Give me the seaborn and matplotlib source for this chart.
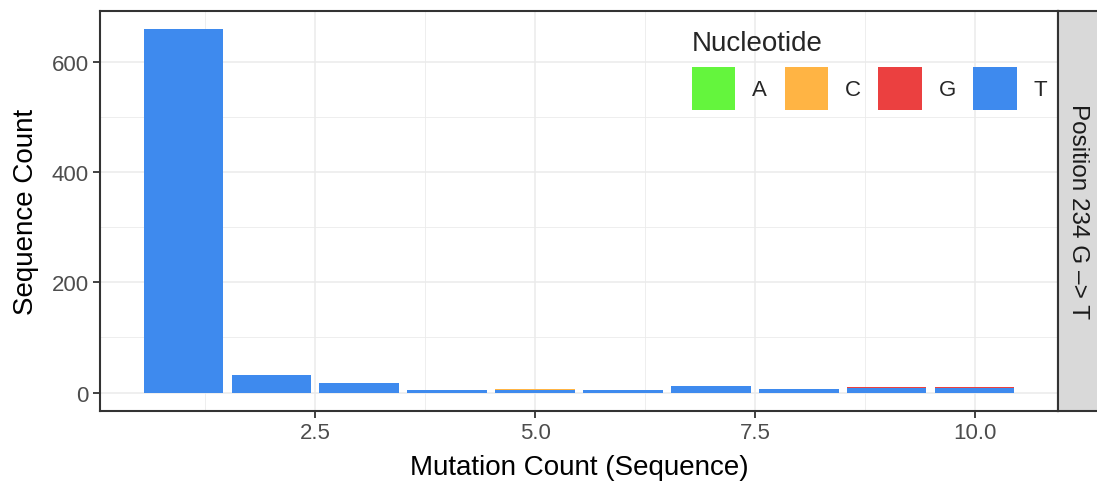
import matplotlib
matplotlib.use("Agg")
import matplotlib.pyplot as plt
from matplotlib.patches import Patch
from matplotlib.ticker import FixedLocator
import numpy as np
import pandas as pd
import seaborn as sns

# ---- data ----
mutation_count = [1, 2, 3, 4, 5, 6, 7, 8, 9, 10]
count_A = [0, 0, 0, 0, 0, 0, 0, 0, 0, 0]
count_C = [0, 0, 0, 0, 2, 0, 0, 0, 0, 0]
count_G = [0, 0, 0, 0, 0, 0, 0, 0, 2, 2]
count_T = [660, 32, 17, 4, 4, 4, 11, 6, 8, 8]
nucleotides = ["A", "C", "G", "T"]
colors = ["#64F53D", "#FFB444", "#EB4040", "#3E8AEE"]
x_ticks = [2.5, 5.0, 7.5, 10.0]
x_tick_labels = ["2.5", "5.0", "7.5", "10.0"]
y_ticks = [0, 200, 400, 600]
strip_label = "Position 234 G \u2013> T"

rows = []
for nt, vals in zip(nucleotides, [count_A, count_C, count_G, count_T]):
    for m, v in zip(mutation_count, vals):
        rows.append({"Mutation": m, "Nucleotide": nt, "Count": v})
df = pd.DataFrame(rows)
palette = dict(zip(nucleotides, colors))

sns.set_theme(style="white")
plt.rcParams["font.family"] = ["Liberation Sans", "DejaVu Sans"]

W, H = 1097, 485
fig = plt.figure(figsize=(W / 100, H / 100), dpi=100)
L, R, T_, B = 100, 1058, 11.7, 411.7
ax = fig.add_axes([L / W, (H - B) / H, (R - L) / W, (B - T_) / H])

sns.histplot(data=df, x="Mutation", weights="Count", hue="Nucleotide",
             hue_order=nucleotides, palette=palette, multiple="stack",
             discrete=True, shrink=0.9, alpha=1, linewidth=0, legend=False, ax=ax)

totals = np.array(count_A) + np.array(count_C) + np.array(count_G) + np.array(count_T)
ymax = totals.max()
ax.set_ylim(-0.05 * ymax, 1.05 * ymax)
xr = (mutation_count[-1] + 0.45) - (mutation_count[0] - 0.45)
ax.set_xlim(mutation_count[0] - 0.45 - 0.05 * xr, mutation_count[-1] + 0.45 + 0.05 * xr)

ax.set_xticks(x_ticks)
ax.set_xticklabels(x_tick_labels)
ax.set_yticks(y_ticks)
ax.xaxis.set_minor_locator(FixedLocator([1.25, 3.75, 6.25, 8.75]))
ax.yaxis.set_minor_locator(FixedLocator([100, 300, 500]))

ax.set_axisbelow(True)
ax.grid(which="major", color="#EBEBEB", linewidth=1.15)
ax.grid(which="minor", color="#EBEBEB", linewidth=0.6)
ax.tick_params(which="major", length=5, width=1.3, color="#333333",
               labelsize=16, labelcolor="#4D4D4D", pad=3, left=True, bottom=True)
ax.tick_params(which="minor", length=0)
for sp in ax.spines.values():
    sp.set_color("#333333")
    sp.set_linewidth(1.5)
    sp.set_visible(True)

ax.set_xlabel("Mutation Count (Sequence)", fontsize=20, color="black", labelpad=8)
ax.set_ylabel("Sequence Count", fontsize=20, color="black", labelpad=9)

# legend
handles = [Patch(facecolor=c, edgecolor="none") for c in colors]
leg = ax.legend(handles, nucleotides, title="Nucleotide", ncol=4,
                loc="upper left", bbox_to_anchor=(692 / W, (H - 31) / H),
                bbox_transform=fig.transFigure, frameon=False, fontsize=16,
                title_fontsize=20, handlelength=1.95, handleheight=2.6,
                handletextpad=0.75, columnspacing=0.8, borderpad=0,
                borderaxespad=0, alignment="left")

# facet strip
sax = fig.add_axes([R / W, (H - B) / H, (W - R) / W + 0.01, (B - T_) / H])
sax.set_facecolor("#D9D9D9")
sax.set_xticks([])
sax.set_yticks([])
for sp in sax.spines.values():
    sp.set_color("#333333")
    sp.set_linewidth(1.5)
sax.text(0.4, 0.5, strip_label, rotation=270, ha="center", va="center",
         fontsize=17.5, color="#1A1A1A", transform=sax.transAxes)

fig.savefig("out.png", dpi=100)
